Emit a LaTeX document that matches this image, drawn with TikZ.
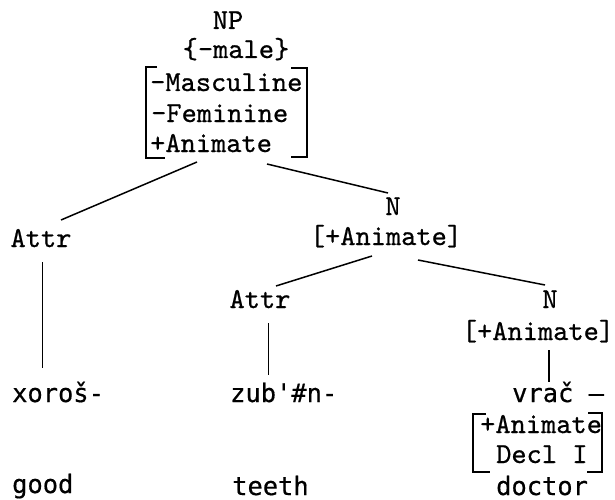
\documentclass[tikz,border=0pt]{standalone}
\usepackage{fontspec}
\usetikzlibrary{calc}
\setmonofont{lmmono10-regular.otf}[FakeBold=0.7]
\newfontfamily\wordfont{DejaVu Sans Mono}[FakeBold=0.5]
\tikzset{
  lab/.style={inner sep=0pt, font=\fontsize{29}{30}\selectfont\ttfamily},
  word/.style={inner sep=0pt, font=\fontsize{25.4}{30}\selectfont\wordfont},
  branch/.style={line width=1.5pt},
  brk/.style={line width=1.5pt}
}
\begin{document}
\begin{tikzpicture}[x=1pt, y=-1pt]
\useasboundingbox (0,0) rectangle (615,500);

% root with its feature set and matrix
\node[lab, anchor=base] (np)   at (228,29)  {NP};
\node[lab, anchor=base] (male) at (236,58)  {\{-male\}};
\node[lab, anchor=base west] (masc) at (150,91)  {-Masculine};
\node[lab, anchor=base west] (fem)  at (151,122) {-Feminine};
\node[lab, anchor=base west] (anim) at (150,152) {+Animate};
\draw[brk] (157,67) -- (146,67) -- (146,158) -- (165,158);
\draw[brk] (291,68) -- (307,68) -- (307,157) -- (291,157);

% left attribute
\node[lab, anchor=base] (attrA) at (41,247) {Attr};
\node[word, anchor=base west] (xor)  at (12,402) {xoroš-};
\node[word, anchor=base west] (good) at (12,493) {good};

% first noun
\node[lab, anchor=base] (n1)  at (393,215) {N};
\node[lab, anchor=base] (n1f) at (386,245) {[+Animate]};

% inner attribute
\node[lab, anchor=base] (attrB) at (260,308) {Attr};
\node[word, anchor=base west] (zub)   at (230,402) {zub'\#n-};
\node[word, anchor=base west] (teeth) at (232,495) {teeth};

% inner noun
\node[lab, anchor=base] (n2)  at (550,308) {N};
\node[lab, anchor=base] (n2f) at (538,340) {[+Animate]};
\node[word, anchor=base west] (vrac) at (512,402) {vrač –};
\node[lab, anchor=base west] (m2a) at (480,433) {+Animate};
\node[lab, anchor=base west] (m2b) at (496,463) {Decl I};
\node[word, anchor=base west] (doctor) at (496,495) {doctor};
\draw[brk] (486,414) -- (473,414) -- (473,472) -- (490,472);
\draw[brk] (588,413) -- (602,413) -- (602,472) -- (587,472);

% branches
\draw[branch] ($(anim.base west)+(47,10)$) -- ($(attrA.base)+(20,-27)$);
\draw[branch] ($(anim.base west)+(117,12)$) -- ($(n1.base)+(-5,-22)$);
\draw[branch] ($(attrA.base)+(1.5,15)$) -- ($(xor.base west)+(30.5,-34)$);
\draw[branch] ($(n1f.base)+(-14,11)$) -- ($(attrB.base)+(16,-22)$);
\draw[branch] ($(n1f.base)+(32,15)$) -- ($(n2.base)+(-5,-23)$);
\draw[branch] ($(attrB.base)+(8.5,15)$) -- ($(zub.base west)+(38.5,-27)$);
\draw[branch] ($(n2f.base)+(11,10)$) -- ($(vrac.base west)+(37,-20)$);
\end{tikzpicture}
\end{document}
